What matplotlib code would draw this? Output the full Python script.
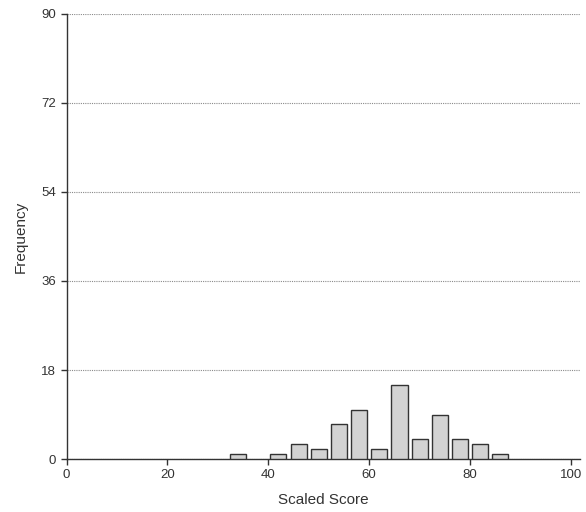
import matplotlib.pyplot as plt
import numpy as np

plt.rcParams['font.family'] = ['Liberation Sans', 'DejaVu Sans']

# Histogram of scaled scores (bin centres and counts)
bin_centers = [34, 38, 42, 46, 50, 54, 58, 62, 66, 70, 74, 78, 82, 86]
counts = [1, 0, 1, 3, 2, 7, 10, 2, 15, 4, 9, 4, 3, 1]
x_ticks = [0, 20, 40, 60, 80, 100]
y_ticks = [0, 18, 36, 54, 72, 90]

fig = plt.figure(figsize=(5.86, 5.12), dpi=100)
ax = fig.add_axes([0.1135, 0.1035, 0.8765, 0.8692])

centers = np.array(bin_centers)
vals = np.array(counts)
mask = vals > 0
ax.bar(centers[mask], vals[mask], width=3.2, color='#d3d3d3',
       edgecolor='#333333', linewidth=1.0, zorder=3)

ax.set_xlim(0, 101.8)
ax.set_ylim(0, 90)
ax.set_xticks(x_ticks)
ax.set_yticks(y_ticks)
ax.yaxis.grid(True, linestyle=(0, (1, 1)), color='#8a8a8a', linewidth=0.8)
ax.set_axisbelow(True)

for side in ['top', 'right']:
    ax.spines[side].set_visible(False)
for side in ['left', 'bottom']:
    ax.spines[side].set_color('#333333')
    ax.spines[side].set_linewidth(1.0)

ax.tick_params(axis='both', colors='#333333', labelsize=9.5, length=4, width=1)
ax.set_xlabel('Scaled Score', fontsize=11, color='#333333', labelpad=8)
ax.set_ylabel('Frequency', fontsize=11, color='#333333', labelpad=10)

fig.savefig('out.png', dpi=100)
